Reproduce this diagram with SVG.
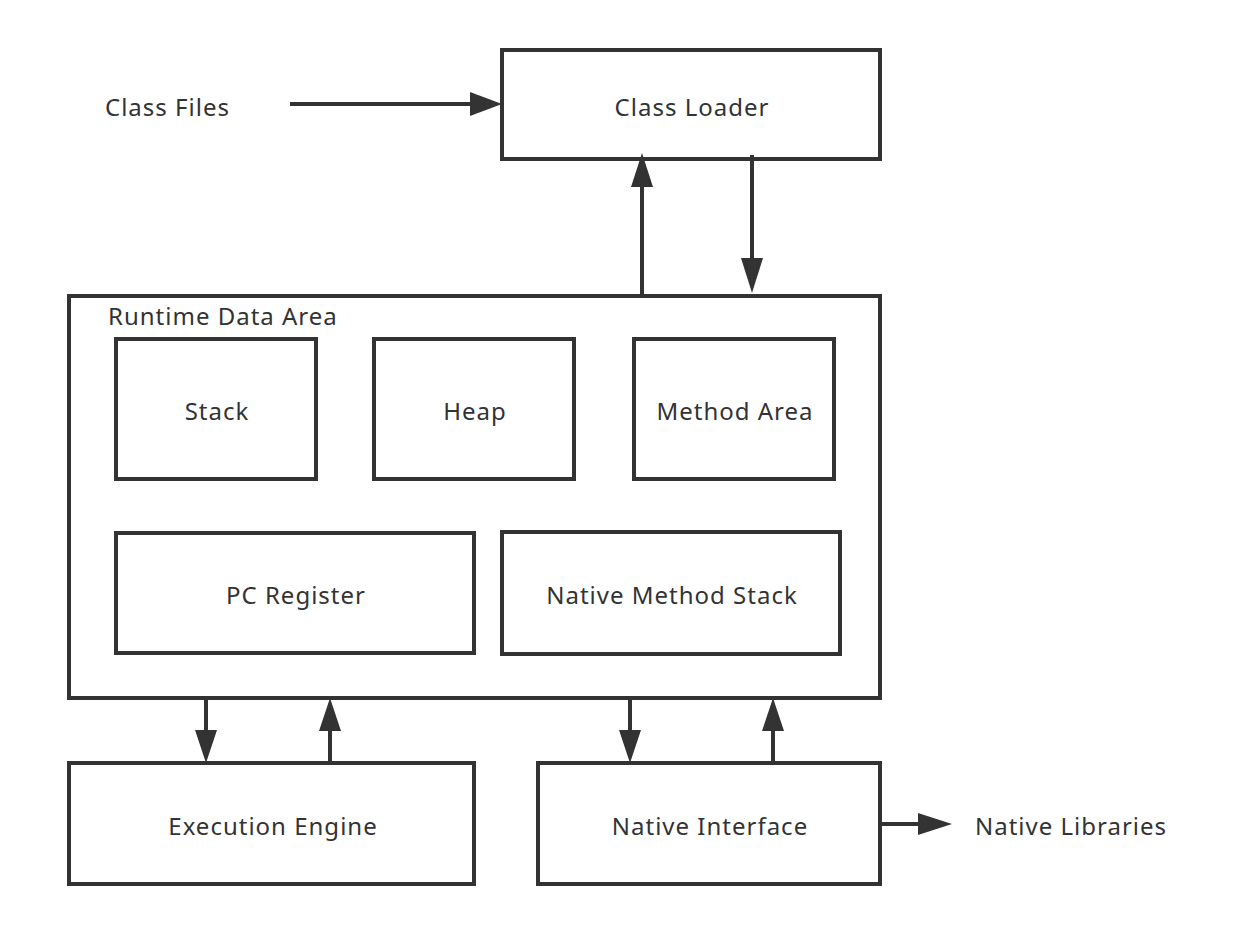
<svg xmlns="http://www.w3.org/2000/svg" width="1240" height="935" viewBox="0 0 1240 935">
<defs>
<style>
.box{fill:none;stroke:#333;stroke-width:4}
.ln{stroke:#333;stroke-width:4;fill:none}
.hd{fill:#333}
text{font-family:"Noto Sans","Liberation Sans",sans-serif;font-size:24px;fill:#333;letter-spacing:1px}
.c{text-anchor:middle}
</style>
</defs>
<rect width="1240" height="935" fill="#fff"/>
<g id="class-files"><text x="105" y="116">Class Files</text></g>
<g id="class-loader"><rect class="box" x="502" y="50" width="378" height="109"/><text class="c" x="692" y="116">Class Loader</text></g>
<g id="runtime-data-area"><rect class="box" x="69" y="296" width="811" height="402"/><text x="108" y="325">Runtime Data Area</text></g>
<g id="stack"><rect class="box" x="116" y="339" width="200" height="140"/><text class="c" x="217" y="420">Stack</text></g>
<g id="heap"><rect class="box" x="374" y="339" width="200" height="140"/><text class="c" x="475" y="420">Heap</text></g>
<g id="method-area"><rect class="box" x="634" y="339" width="200" height="140"/><text class="c" x="735" y="420">Method Area</text></g>
<g id="pc-register"><rect class="box" x="116" y="533" width="358" height="120"/><text class="c" x="296" y="604">PC Register</text></g>
<g id="native-method-stack"><rect class="box" x="502" y="532" width="338" height="122"/><text class="c" x="672" y="604">Native Method Stack</text></g>
<g id="execution-engine"><rect class="box" x="69" y="763" width="405" height="121"/><text class="c" x="273" y="835">Execution Engine</text></g>
<g id="native-interface"><rect class="box" x="538" y="763" width="342" height="121"/><text class="c" x="710" y="835">Native Interface</text></g>
<g id="native-libraries"><text x="975" y="835">Native Libraries</text></g>
<g id="connectors">
<line class="ln" x1="290" y1="104" x2="472" y2="104"/><polygon class="hd" points="502,104 470,92 470,116"/>
<line class="ln" x1="642" y1="296" x2="642" y2="185"/><polygon class="hd" points="642,153 631,187 653,187"/>
<line class="ln" x1="752" y1="155" x2="752" y2="262"/><polygon class="hd" points="752,293 741,258 763,258"/>
<line class="ln" x1="206" y1="698" x2="206" y2="733"/><polygon class="hd" points="206,763 195,730 217,730"/>
<line class="ln" x1="330" y1="763" x2="330" y2="728"/><polygon class="hd" points="330,698 319,731 341,731"/>
<line class="ln" x1="630" y1="698" x2="630" y2="733"/><polygon class="hd" points="630,763 619,730 641,730"/>
<line class="ln" x1="773" y1="763" x2="773" y2="728"/><polygon class="hd" points="773,698 762,731 784,731"/>
<line class="ln" x1="880" y1="824" x2="922" y2="824"/><polygon class="hd" points="952,824 918,813 918,835"/>
</g>
</svg>
